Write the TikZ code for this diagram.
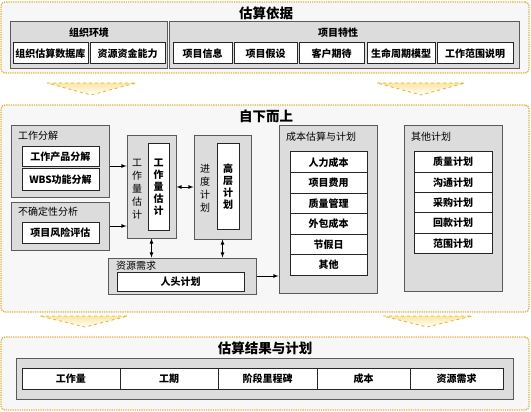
\documentclass[tikz,border=0pt]{standalone}
\usepackage{fontspec}
\setmainfont{Noto Sans CJK SC}
\definecolor{fondo}{HTML}{F7F7F7}
\definecolor{oro}{HTML}{E2B13C}
\definecolor{gris}{HTML}{DCDCDC}
\definecolor{borde}{HTML}{5A5A5A}
\definecolor{amarillo}{HTML}{FBE7A6}
\tikzset{
  panel/.style={draw=oro, densely dotted, line width=1.3pt, fill=fondo, rounded corners=4pt},
  grupo/.style={draw=borde, line width=1pt, fill=gris},
  caja/.style={draw=black!85, line width=1pt, fill=white, font=\bfseries\fontsize{10}{11}\selectfont},
  titulo/.style={font=\bfseries\fontsize{13.5}{15}\selectfont},
  etiqueta/.style={anchor=west, font=\fontsize{10}{11}\selectfont},
  vertical/.style={align=center, font=\fontsize{10}{13}\selectfont},
  chevron/.style={draw=oro, dashed, line width=0.8pt, top color=amarillo, bottom color=white}
}
\begin{document}
\begin{tikzpicture}[x=1pt, y=-1pt, >=latex, inner sep=0pt]
                \useasboundingbox (0,0) rectangle (531,412);

                % Estimacion: bases
                \node[panel, minimum width=528, minimum height=71] (base) at (265,37.5) {};
                \node[titulo] (tbase) at (266,13) {估算依据};
                \node[grupo, minimum width=157, minimum height=47] (org) at (88.5,45.5) {};
                \node[font=\bfseries\fontsize{10}{11}\selectfont] (torg) at (89,33) {组织环境};
                \node[caja, minimum width=75, minimum height=21] (bd) at (50.5,53.5) {组织估算数据库};
                \node[caja, minimum width=75, minimum height=21] (rec) at (127.5,53.5) {资源资金能力};
                \node[grupo, minimum width=350, minimum height=47] (proy) at (344,45.5) {};
                \node[font=\bfseries\fontsize{10}{11}\selectfont] (tproy) at (338,33) {项目特性};
                \node[caja, minimum width=59, minimum height=21] (info) at (202.5,53.5) {项目信息};
                \node[caja, minimum width=63, minimum height=21] (sup) at (265.5,53.5) {项目假设};
                \node[caja, minimum width=65, minimum height=21] (cli) at (331.5,53.5) {客户期待};
                \node[caja, minimum width=68, minimum height=21] (ciclo) at (401,53.5) {生命周期模型};
                \node[caja, minimum width=76, minimum height=21] (alc) at (475,53.5) {工作范围说明};

                % Flechas hacia abajo
                \draw[chevron] (47,83) -- (136,83) -- (91,95) -- cycle;
                \draw[chevron] (377,83) -- (465,83) -- (421,95) -- cycle;

                % De abajo hacia arriba
                \node[panel, minimum width=528, minimum height=207] (medio) at (265,208.5) {};
                \node[titulo] (tmedio) at (266,116) {自下而上};

                \node[grupo, minimum width=98, minimum height=71] (desc) at (60,161.5) {};
                \node[etiqueta] (tdesc) at (18,136) {工作分解};
                \node[caja, minimum width=77, minimum height=20] (prod) at (60.5,157) {工作产品分解};
                \node[caja, minimum width=77, minimum height=21] (wbs) at (60.5,179.5) {WBS功能分解};

                \node[grupo, minimum width=98, minimum height=48] (inc) at (60,226) {};
                \node[etiqueta] (tinc) at (18,212) {不确定性分析};
                \node[caja, minimum width=77, minimum height=21] (riesgo) at (60.5,232.5) {项目风险评估};

                \node[grupo, minimum width=49, minimum height=102] (esf) at (151.5,187) {};
                \node[vertical] (tesf) at (137,189) {工\\作\\量\\估\\计};
                \node[caja, minimum width=21, minimum height=86, align=center, font=\bfseries\fontsize{10}{12}\selectfont] (iesf) at (158.5,187) {工\\作\\量\\估\\计};

                \node[grupo, minimum width=57, minimum height=103] (cron) at (222.5,187.5) {};
                \node[vertical] (tcron) at (205,188) {进\\度\\计\\划};
                \node[caja, minimum width=22, minimum height=85, align=center, font=\bfseries\fontsize{10}{12}\selectfont] (alto) at (228,186.5) {高\\层\\计\\划};

                \node[grupo, minimum width=148, minimum height=36] (recur) at (182,276) {};
                \node[etiqueta] (trecur) at (116,266) {资源需求};
                \node[caja, minimum width=127, minimum height=19] (pers) at (180.5,281.5) {人头计划};

                \node[grupo, minimum width=98, minimum height=167] (costo) at (328,209.5) {};
                \node[etiqueta] (tcosto) at (286,137) {成本估算与计划};
                \foreach \nombre [count=\i from 0] in {人力成本, 项目费用, 质量管理, 外包成本, 节假日, 其他}
                  \node[caja, minimum width=77, minimum height=20.5] (c\i) at (328.5,162.25+20.5*\i) {\nombre};

                \node[grupo, minimum width=98, minimum height=165] (otros) at (453,208.5) {};
                \node[etiqueta] (totros) at (411,137) {其他计划};
                \foreach \nombre [count=\i from 0] in {质量计划, 沟通计划, 采购计划, 回款计划, 范围计划}
                  \node[caja, minimum width=78, minimum height=20.3] (o\i) at (453,162.15+20.3*\i) {\nombre};

                % Conectores
                \draw[->, line width=0.8pt] ([yshift=-4.5pt]desc.east) -- ([yshift=-4.5pt]desc.east -| esf.west);
                \draw[->, line width=0.8pt] (inc.east) -- (inc.east -| esf.west);
                \draw[<->, line width=0.8pt] (esf.east) -- (esf.east -| cron.west);
                \draw[<->, line width=0.8pt] (esf.south) -- (esf.south |- recur.north);
                \draw[<->, line width=0.8pt] (cron.south) -- (cron.south |- recur.north);
                \draw[->, line width=0.8pt] (recur.east) -- (recur.east -| costo.west);

                % Flechas hacia abajo
                \draw[chevron] (40,316) -- (128,316) -- (85,327) -- cycle;
                \draw[chevron] (383,316) -- (472,316) -- (427,327) -- cycle;

                % Resultados
                \node[panel, minimum width=528, minimum height=73] (res) at (265,373.5) {};
                \node[titulo] (tres) at (265,348) {估算结果与计划};
                \node[grupo, minimum width=497, minimum height=41] (fila) at (264.5,378.5) {};
                \node[caja, minimum width=98, minimum height=21] (r1) at (71,378.5) {工作量};
                \node[caja, minimum width=98, minimum height=21] (r2) at (169,378.5) {工期};
                \node[caja, minimum width=99, minimum height=21] (r3) at (267.5,378.5) {阶段里程碑};
                \node[caja, minimum width=93, minimum height=21] (r4) at (363.5,378.5) {成本};
                \node[caja, minimum width=93, minimum height=21] (r5) at (456.5,378.5) {资源需求};
\end{tikzpicture}
\end{document}
